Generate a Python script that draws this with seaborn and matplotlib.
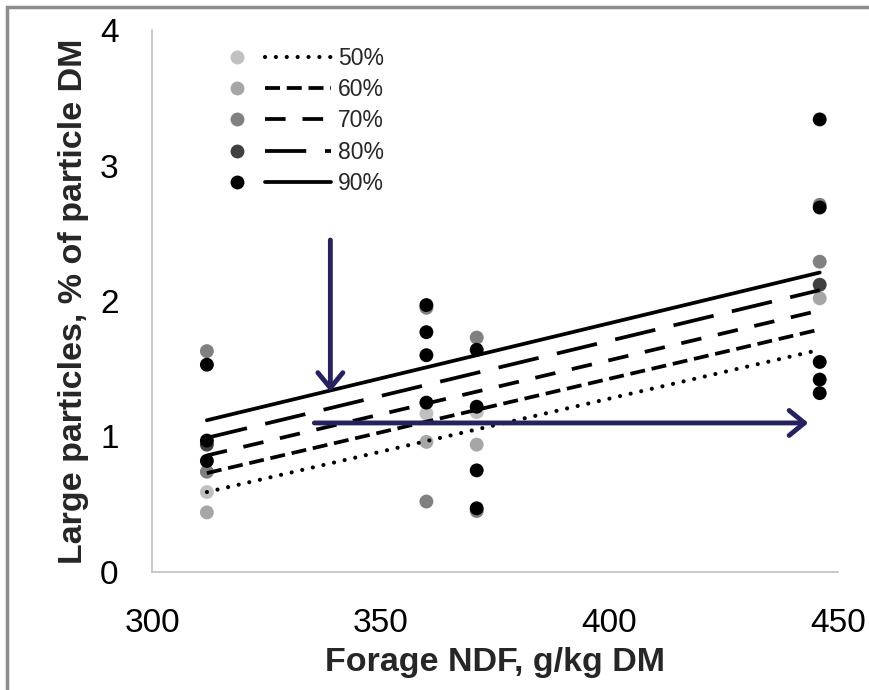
import matplotlib
matplotlib.use("Agg")
import matplotlib.pyplot as plt
from matplotlib.lines import Line2D
from matplotlib.legend_handler import HandlerBase
from matplotlib.patches import Rectangle
import seaborn as sns
import pandas as pd

sns.set_style("white")
plt.rcParams['font.family'] = ['Liberation Sans', 'DejaVu Sans']

series = ["50%", "60%", "70%", "80%", "90%"]
marker_colors = ["#c0c0c0", "#a6a6a6", "#808080", "#404040", "#000000"]

# scatter observations per series
x50 = [312, 360, 371]
y50 = [0.59, 1.17, 1.18]
x60 = [312, 360, 371, 446]
y60 = [0.44, 0.96, 0.94, 2.02]
x70 = [312, 312, 360, 360, 371, 371, 446, 446]
y70 = [1.63, 0.74, 0.52, 1.95, 1.73, 0.45, 2.29, 2.71]
x80 = [312, 446]
y80 = [0.94, 2.12]
x90 = [312, 312, 312, 360, 360, 360, 360, 371, 371, 371, 371, 446, 446, 446, 446, 446]
y90 = [1.53, 0.97, 0.82, 1.97, 1.77, 1.60, 1.25, 1.64, 1.22, 0.75, 0.47, 3.34, 2.69, 1.55, 1.42, 1.32]

# trend line endpoints
line_x = [312, 446]
line50 = [0.59, 1.64]
line60 = [0.73, 1.79]
line70 = [0.86, 1.93]
line80 = [0.99, 2.08]
line90 = [1.12, 2.21]

xticks = [300, 350, 400, 450]
yticks = [0, 1, 2, 3, 4]

pts = pd.concat([
    pd.DataFrame({"x": x, "y": y, "s": s})
    for x, y, s in zip([x50, x60, x70, x80, x90], [y50, y60, y70, y80, y90], series)
])
lines = pd.concat([
    pd.DataFrame({"x": line_x, "y": y, "s": s})
    for y, s in zip([line50, line60, line70, line80, line90], series)
])

dash_styles = [(0, (0.01, 2.6)), (0, (4.0, 1.8)), (0, (5.5, 4.5)), (0, (11, 5)), "-"]
caps = ["round", "butt", "butt", "butt", "butt"]
widths = [3.0, 2.7, 2.7, 2.7, 2.7]


class MarkerLineHandler(HandlerBase):
    def create_artists(self, legend, orig_handle, xdescent, ydescent, width, height,
                       fontsize, trans):
        mk, ln = orig_handle
        y = height / 2 - ydescent
        x0 = -xdescent
        m = Line2D([x0 + 0.09 * width], [y], marker="o", linestyle="none",
                   markersize=mk.get_markersize(), markerfacecolor=mk.get_markerfacecolor(),
                   markeredgecolor="none")
        m.set_transform(trans)
        l = Line2D([x0 + 0.36 * width, x0 + width], [y, y])
        l.update_from(ln)
        l.set_data([x0 + 0.36 * width, x0 + width], [y, y])
        l.set_transform(trans)
        return [m, l]


fig = plt.figure(figsize=(8.69, 6.90), dpi=100)
ax = fig.add_axes([152 / 869, 1 - 572 / 690, (838 - 152) / 869, (572 - 30) / 690])

# outer frame like the source screenshot
fig.patches.append(Rectangle((7 / 869, -0.05), 1.1, 1 - 7 / 690 + 0.05, transform=fig.transFigure,
                             fill=False, edgecolor="#8c8c8c", linewidth=2.5, zorder=-1))

sns.scatterplot(data=pts, x="x", y="y", hue="s", palette=dict(zip(series, marker_colors)),
                hue_order=series, s=100, edgecolor="none", legend=False, ax=ax, zorder=3)

handles = []
for s, c, ls, cap, w in zip(series, marker_colors, dash_styles, caps, widths):
    d = lines[lines.s == s]
    sns.lineplot(data=d, x="x", y="y", color="black", linewidth=w, ax=ax, zorder=4)
    ln = ax.get_lines()[-1]
    ln.set_linestyle(ls)
    ln.set_dash_capstyle(cap)
    ln.set_solid_capstyle("round")
    mk = Line2D([], [], marker="o", linestyle="none", markersize=10, markerfacecolor=c,
                markeredgecolor="none")
    lh = Line2D([], [], color="black", linewidth=w, linestyle=ls, dash_capstyle=cap)
    handles.append((mk, lh))

arrow_style = "->,head_length=0.55,head_width=0.45"
ax.annotate("", xy=(339, 1.33), xytext=(339, 2.45),
            arrowprops=dict(arrowstyle=arrow_style, color="#262262", lw=3.5,
                            shrinkA=0, shrinkB=0, mutation_scale=20), zorder=5)
ax.annotate("", xy=(443.5, 1.10), xytext=(335.5, 1.10),
            arrowprops=dict(arrowstyle=arrow_style, color="#262262", lw=3.5,
                            shrinkA=0, shrinkB=0, mutation_scale=20), zorder=5)

ax.set_xlim(300, 450)
ax.set_ylim(0, 4)
ax.set_xticks(xticks)
ax.set_yticks(yticks)
ax.tick_params(axis="both", length=0, labelsize=24, colors="black")
ax.tick_params(axis="x", pad=26)
ax.tick_params(axis="y", pad=24)
for side in ["top", "right"]:
    ax.spines[side].set_visible(False)
for side in ["left", "bottom"]:
    ax.spines[side].set_color("#c0c0c0")
    ax.spines[side].set_linewidth(1.2)

ax.set_xlabel("Forage NDF, g/kg DM", fontsize=24.5, fontweight="bold", labelpad=6)
ax.set_ylabel("Large particles, % of particle DM", fontsize=24.5, fontweight="bold", labelpad=8)

leg = ax.legend(handles, series, handler_map={tuple: MarkerLineHandler()},
                loc="upper left", bbox_to_anchor=(0.111, 0.969), frameon=False, fontsize=16.5,
                handlelength=4.5, handletextpad=0.3, labelspacing=0.36,
                borderpad=0, borderaxespad=0)

fig.savefig("out.png", dpi=100)
